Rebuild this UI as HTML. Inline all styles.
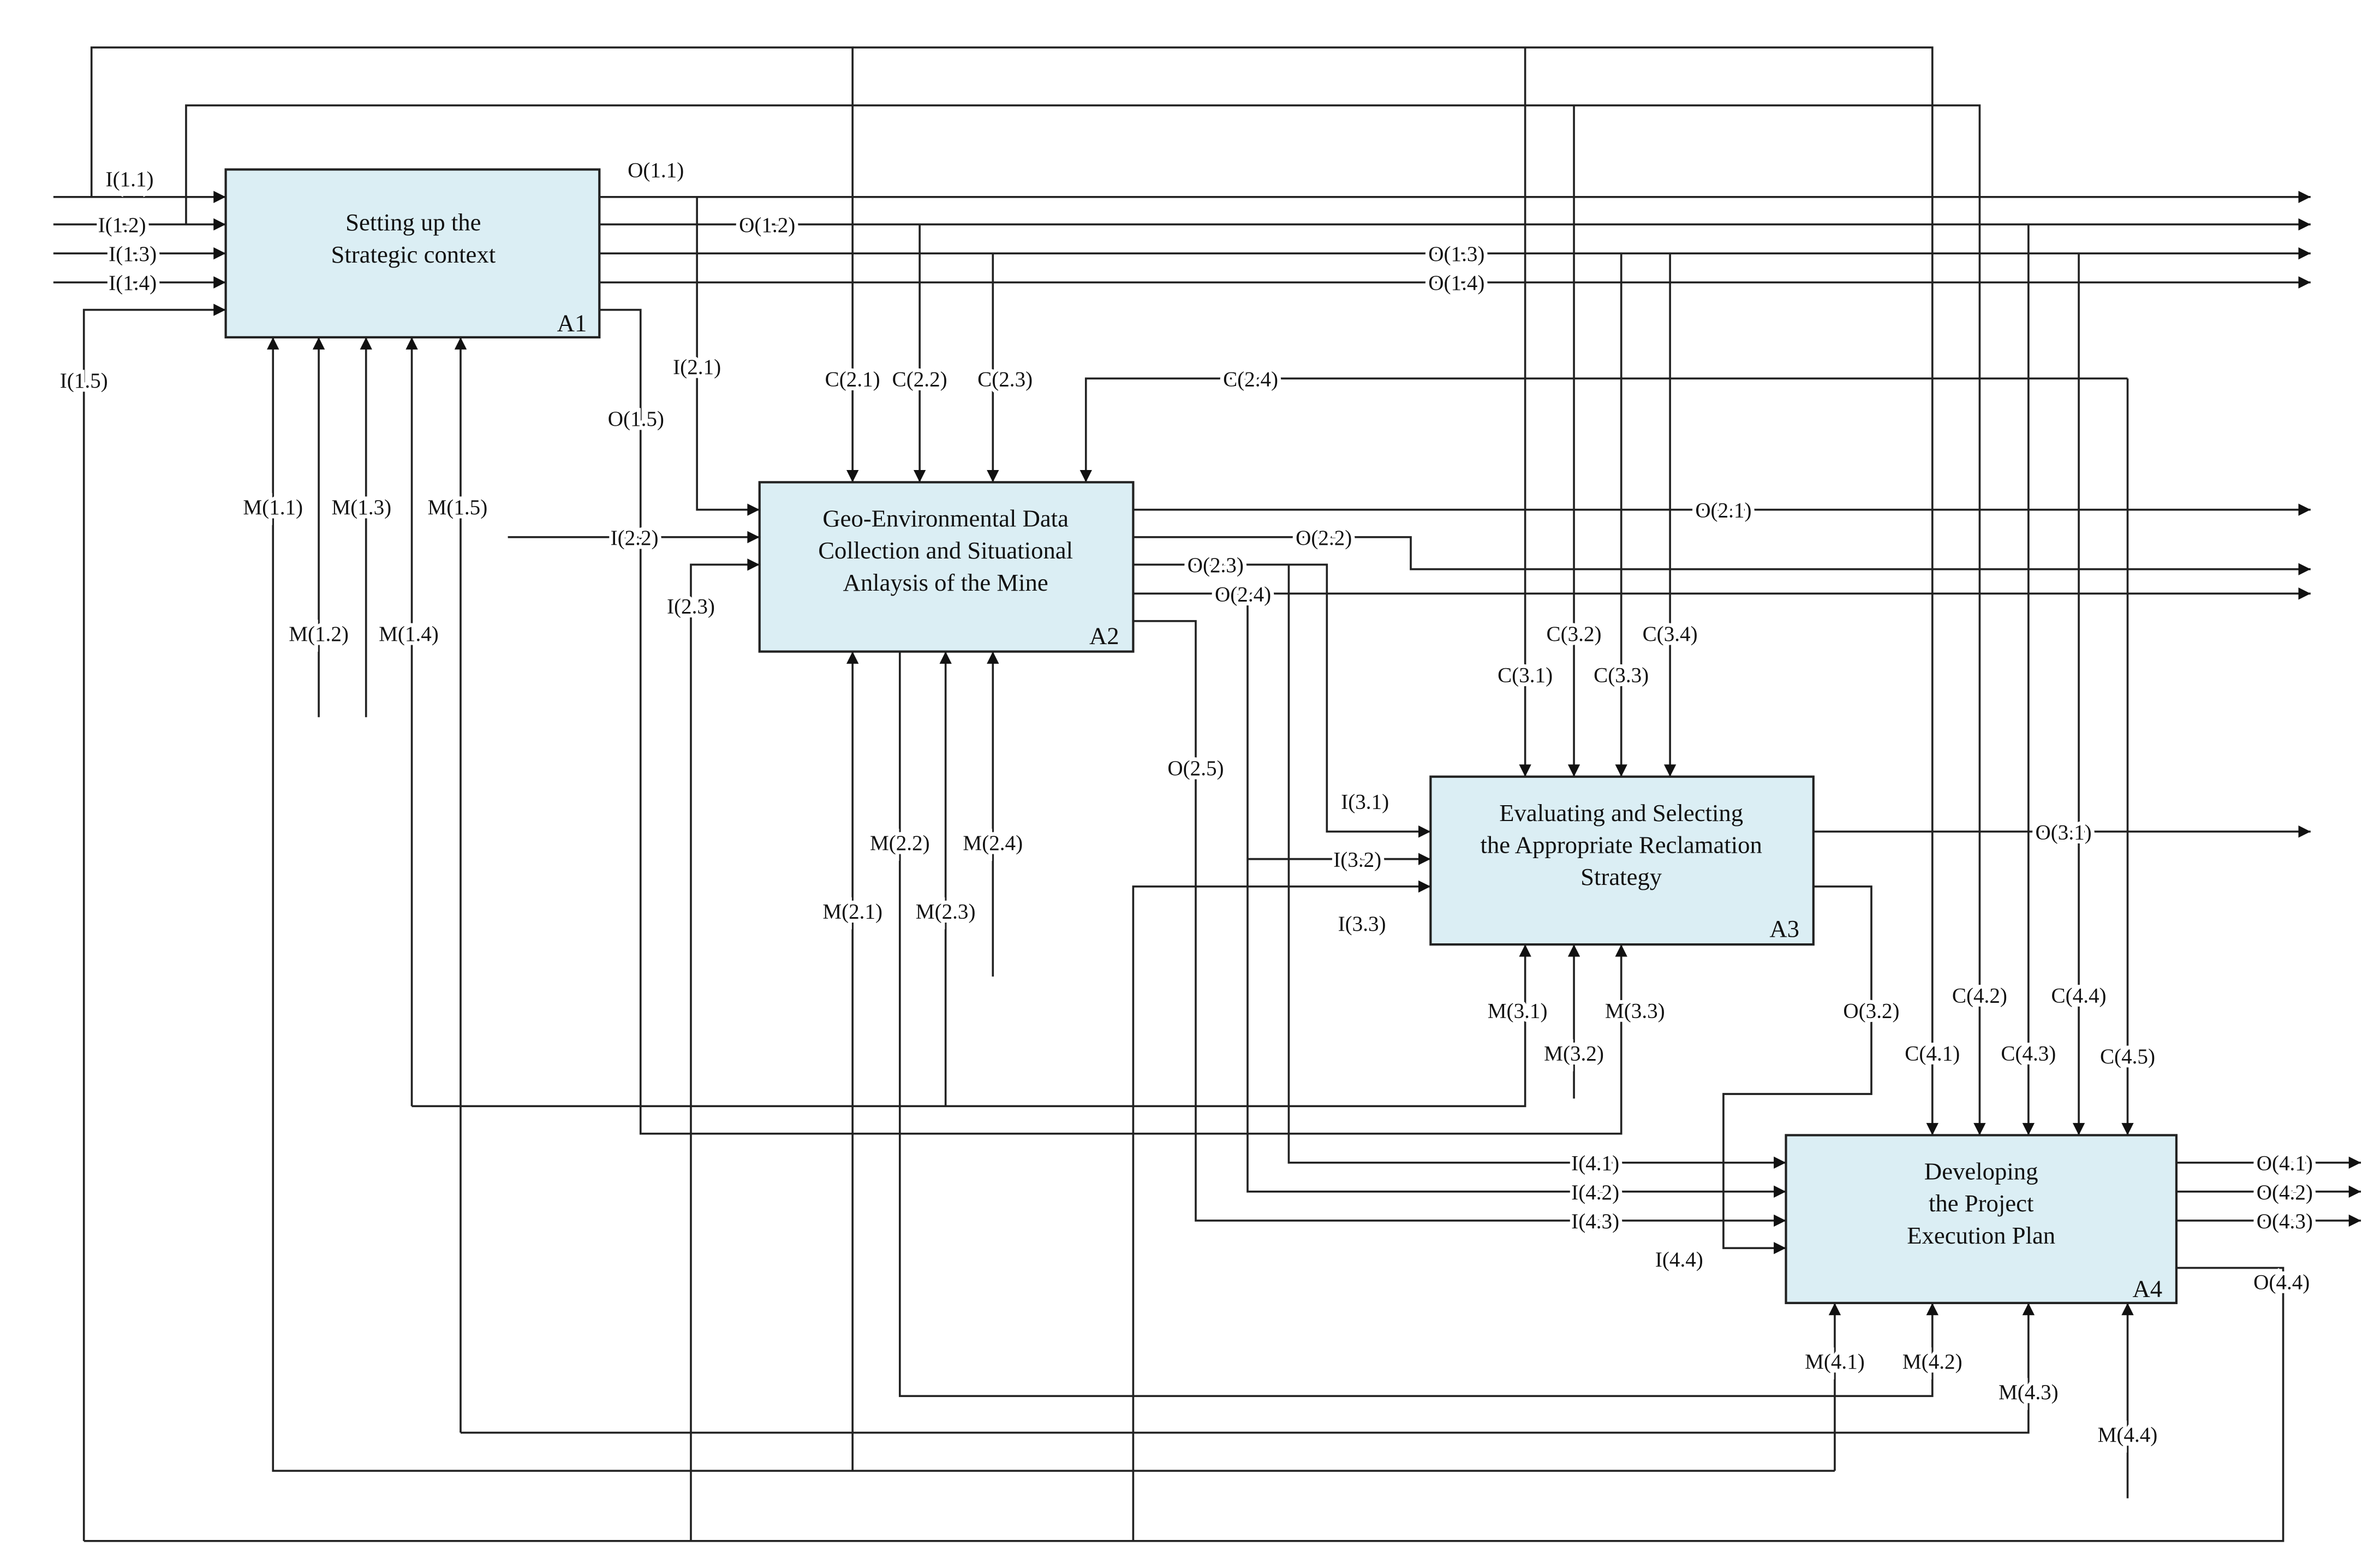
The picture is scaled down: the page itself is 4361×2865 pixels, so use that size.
<!DOCTYPE html>
<html><head><meta charset="utf-8"><style>
html,body{margin:0;padding:0;background:#fff}
svg{display:block}
text{font-family:"Liberation Serif",serif;font-size:14px;fill:#111}
.l{paint-order:stroke;stroke:#fff;stroke-width:5px;text-anchor:middle}
.b{font-size:16px;text-anchor:middle}
</style></head><body>
<svg width="4361" height="2865" viewBox="0 0 1560.5 1025" xmlns="http://www.w3.org/2000/svg">
<defs><marker id="a" viewBox="0 0 10 10" refX="10" refY="5" markerWidth="11" markerHeight="8" markerUnits="userSpaceOnUse" orient="auto"><path d="M0,0L10,5L0,10z" fill="#111"/></marker></defs>
<g fill="none" stroke="#222" stroke-width="1.3" marker-end="url(#a)">
<!-- A1 inputs -->
<polyline points="35,129 148,129"/>
<polyline points="35,147 148,147"/>
<polyline points="35,166 148,166"/>
<polyline points="35,185 148,185"/>
<polyline points="55,1010 55,203 148,203"/>
<!-- top feed lines -->
<polyline points="60,129 60,31 559,31 559,316"/>
<polyline points="1000,31 1000,509"/>
<polyline points="559,31 1267,31 1267,744"/>
<polyline points="122,147 122,69 1298,69 1298,744"/>
<polyline points="1032,69 1032,509"/>
<!-- A1 outputs -->
<polyline points="393,129 1515,129"/>
<polyline points="393,147 1515,147"/>
<polyline points="393,166 1515,166"/>
<polyline points="393,185 1515,185"/>
<polyline points="393,203 420,203 420,743 1063,743 1063,619"/>
<polyline points="457,129 457,334 498,334"/>
<polyline points="333,352 498,352"/>
<polyline points="453,1010 453,370 498,370"/>
<polyline points="603,147 603,316"/>
<polyline points="651,166 651,316"/>
<polyline points="1395,248 712,248 712,316"/>
<polyline points="1395,248 1395,744"/>
<polyline points="1063,166 1063,509"/>
<polyline points="1095,166 1095,509"/>
<polyline points="1330,147 1330,744"/>
<polyline points="1363,166 1363,744"/>
<!-- A2 outputs -->
<polyline points="743,334 1515,334"/>
<polyline points="743,352 925,352 925,373 1515,373"/>
<polyline points="743,370 870,370 870,545 938,545"/>
<polyline points="845,370 845,762 1171,762"/>
<polyline points="743,389 1515,389"/>
<polyline points="818,389 818,781 1171,781"/>
<polyline points="818,563 938,563"/>
<polyline points="743,407 784,407 784,800 1171,800"/>
<polyline points="743,1010 743,581 938,581"/>
<!-- A3 -->
<polyline points="1189,545 1515,545"/>
<polyline points="1189,581 1227,581 1227,717 1130,717 1130,818 1171,818"/>
<polyline points="1032,720 1032,619"/>
<polyline points="270,725 1000,725 1000,619"/>
<!-- A4 -->
<polyline points="1427,762 1548,762"/>
<polyline points="1427,781 1548,781"/>
<polyline points="1427,800 1548,800"/>
<polyline points="1427,831 1497,831 1497,1010 55,1010" marker-end="none"/>
<polyline points="1395,982 1395,854"/>
<!-- mechanisms -->
<polyline points="1203,964 179,964 179,221" />
<polyline points="1203,964 1203,854"/>
<polyline points="209,470 209,221"/>
<polyline points="240,470 240,221"/>
<polyline points="270,725 270,221"/>
<polyline points="302,939 302,221"/>
<polyline points="302,939 1330,939 1330,854"/>
<polyline points="559,964 559,427"/>
<polyline points="590,427 590,915 1267,915 1267,854"/>
<polyline points="620,725 620,427"/>
<polyline points="651,640 651,427"/>
</g>
<g fill="#dbeef4" stroke="#222" stroke-width="1.5">
<rect x="148" y="111" width="245" height="110"/>
<rect x="498" y="316" width="245" height="111"/>
<rect x="938" y="509" width="251" height="110"/>
<rect x="1171" y="744" width="256" height="110"/>
</g>
<text class="b" x="271" y="151">Setting up the</text>
<text class="b" x="271" y="172">Strategic context</text>
<text class="b" x="375" y="217">A1</text>
<text class="b" x="620" y="345">Geo-Environmental Data</text>
<text class="b" x="620" y="366">Collection and Situational</text>
<text class="b" x="620" y="387">Anlaysis of the Mine</text>
<text class="b" x="724" y="422">A2</text>
<text class="b" x="1063" y="538">Evaluating and Selecting</text>
<text class="b" x="1063" y="559">the Appropriate Reclamation</text>
<text class="b" x="1063" y="580">Strategy</text>
<text class="b" x="1170" y="614">A3</text>
<text class="b" x="1299" y="773">Developing</text>
<text class="b" x="1299" y="794">the Project</text>
<text class="b" x="1299" y="815">Execution Plan</text>
<text class="b" x="1408" y="850">A4</text>
<g class="lbl">
<text class="l" x="85" y="122">I(1.1)</text>
<text class="l" x="80" y="152">I(1.2)</text>
<text class="l" x="87" y="171">I(1.3)</text>
<text class="l" x="87" y="190">I(1.4)</text>
<text class="l" x="55" y="254">I(1.5)</text>
<text class="l" x="430" y="116">O(1.1)</text>
<text class="l" x="503" y="152">O(1.2)</text>
<text class="l" x="955" y="171">O(1.3)</text>
<text class="l" x="955" y="190">O(1.4)</text>
<text class="l" x="417" y="279">O(1.5)</text>
<text class="l" x="457" y="245">I(2.1)</text>
<text class="l" x="416" y="357">I(2.2)</text>
<text class="l" x="453" y="402">I(2.3)</text>
<text class="l" x="559" y="253">C(2.1)</text>
<text class="l" x="603" y="253">C(2.2)</text>
<text class="l" x="659" y="253">C(2.3)</text>
<text class="l" x="820" y="253">C(2.4)</text>
<text class="l" x="179" y="337">M(1.1)</text>
<text class="l" x="237" y="337">M(1.3)</text>
<text class="l" x="300" y="337">M(1.5)</text>
<text class="l" x="209" y="420">M(1.2)</text>
<text class="l" x="268" y="420">M(1.4)</text>
<text class="l" x="1130" y="339">O(2.1)</text>
<text class="l" x="868" y="357">O(2.2)</text>
<text class="l" x="797" y="375">O(2.3)</text>
<text class="l" x="815" y="394">O(2.4)</text>
<text class="l" x="784" y="508">O(2.5)</text>
<text class="l" x="1000" y="447">C(3.1)</text>
<text class="l" x="1032" y="420">C(3.2)</text>
<text class="l" x="1063" y="447">C(3.3)</text>
<text class="l" x="1095" y="420">C(3.4)</text>
<text class="l" x="895" y="530">I(3.1)</text>
<text class="l" x="890" y="568">I(3.2)</text>
<text class="l" x="893" y="610">I(3.3)</text>
<text class="l" x="1353" y="550">O(3.1)</text>
<text class="l" x="1227" y="667">O(3.2)</text>
<text class="l" x="590" y="557">M(2.2)</text>
<text class="l" x="651" y="557">M(2.4)</text>
<text class="l" x="559" y="602">M(2.1)</text>
<text class="l" x="620" y="602">M(2.3)</text>
<text class="l" x="995" y="667">M(3.1)</text>
<text class="l" x="1032" y="695">M(3.2)</text>
<text class="l" x="1072" y="667">M(3.3)</text>
<text class="l" x="1298" y="657">C(4.2)</text>
<text class="l" x="1363" y="657">C(4.4)</text>
<text class="l" x="1267" y="695">C(4.1)</text>
<text class="l" x="1330" y="695">C(4.3)</text>
<text class="l" x="1395" y="697">C(4.5)</text>
<text class="l" x="1046" y="767">I(4.1)</text>
<text class="l" x="1046" y="786">I(4.2)</text>
<text class="l" x="1046" y="805">I(4.3)</text>
<text class="l" x="1101" y="830">I(4.4)</text>
<text class="l" x="1498" y="767">O(4.1)</text>
<text class="l" x="1498" y="786">O(4.2)</text>
<text class="l" x="1498" y="805">O(4.3)</text>
<text class="l" x="1496" y="845">O(4.4)</text>
<text class="l" x="1203" y="897">M(4.1)</text>
<text class="l" x="1267" y="897">M(4.2)</text>
<text class="l" x="1330" y="917">M(4.3)</text>
<text class="l" x="1395" y="945">M(4.4)</text>
</g>
</svg>
</body></html>
